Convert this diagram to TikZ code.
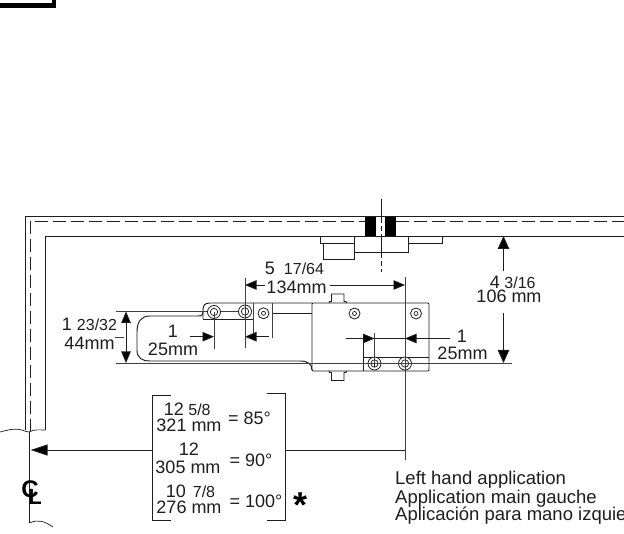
\documentclass[tikz,border=0pt]{standalone}
\usepackage{fontspec}
\setmainfont{Liberation Sans}
\usetikzlibrary{arrows.meta}
\definecolor{ink}{RGB}{30,30,30}
\tikzset{
  x=1pt,y=-1pt,
  wall/.style={draw=ink,line width=.95pt},
  thinl/.style={draw=ink,line width=.7pt},
  extl/.style={draw=ink!85,line width=.9pt},
  dimarrow/.style={draw=ink,line width=.8pt,-{Triangle[length=11.5pt,width=9.5pt,fill=black]}},
  bigarrow/.style={draw=ink,line width=.9pt,-{Triangle[length=13pt,width=11.5pt,fill=black]}},
  hiddenl/.style={draw=ink,line width=.9pt,dash pattern=on 12.5pt off 5.5pt},
  lab/.style={inner sep=0pt,font=\fontsize{18}{18}\selectfont,text=ink},
  small/.style={inner sep=0pt,font=\fontsize{16}{16}\selectfont,text=ink},
  note/.style={inner sep=0pt,anchor=base west,font=\fontsize{18.5}{18.5}\selectfont,text=ink},
  screwo/.style={draw=ink,line width=.8pt,fill=white}
}
\newcommand{\screw}[3]{%
  \node[screwo,circle,minimum size=13pt,inner sep=0pt] (#1) at (#2,#3) {};
  \draw[thinl] (#2,#3) circle (3.7pt);}
\newcommand{\xscrew}[3]{\screw{#1}{#2}{#3}%
  \draw[thinl] (#2-4,#3) -- (#2+4,#3) (#2,#3-4) -- (#2,#3+4);}
\newcommand{\tinyscrew}[3]{%
  \node[screwo,circle,minimum size=11pt,inner sep=0pt] (#1) at (#2,#3) {};
  \draw[thinl] (#2,#3) circle (2pt);}
\begin{document}
\begin{tikzpicture}
\useasboundingbox (0,0) rectangle (624,534);
\fill[white] (0,0) rectangle (624,534);
% corner mark
\fill[black] (0,3.2) rectangle (56,8.2);
\fill[black] (52,0) rectangle (56,8.2);
% frame
\draw[wall] (25,430) -- (25,216.7) -- (624,216.7);
\draw[hiddenl] (30,432) -- (30,221) -- (365,221);
\draw[hiddenl] (396,221) -- (624,221);
\draw[wall] (45,430) -- (45,236) -- (624,236);
\draw[thinl] (0,432) .. controls (8,430) and (14,428) .. (22,430) .. controls (25,431) and (27,432) .. (29,432) .. controls (34,429) and (40,430) .. (45,430);
\draw[wall] (29.7,432) -- (29.7,523);
\draw[thinl] (29.7,523) .. controls (38,519) and (44,521) .. (53,527);
% top fitting
\fill[black] (365,217) rectangle (376,236);
\fill[black] (385,217) rectangle (396,236);
\draw[wall] (320,236) rectangle (442,243);
\draw[wall,fill=white] (354.5,236) rectangle (408.5,252.5);
\draw[wall] (323.5,243) rectangle (354.5,259);
\draw[wall,dash pattern=on 24pt off 3pt on 5pt off 3pt] (381,199) -- (381,272);
% arm
\draw[wall,line join=round] (203,311) .. controls (203,315) and (202,316) .. (198,316) -- (150,316)
  .. controls (141,316) and (137,322) .. (137,332) -- (137,350)
  .. controls (137,358) and (142,361) .. (150,361) -- (300,361)
  .. controls (308,361) and (312,364) .. (312,370);
\draw[wall] (203,319) -- (203,310) .. controls (203,305) and (205,303) .. (210,303) -- (312,303);
\draw[wall] (203,319) -- (254,319);
\draw[extl] (116,311) -- (245,311);
\draw[wall] (273,313.3) -- (312,313.3);
% housing
\draw[wall,rounded corners=1pt] (312,303) rectangle (429,371);
\draw[wall] (363.6,357) -- (429,357);
\draw[wall] (363.6,338.5) -- (363.6,371);
% bumps
\draw[wall] (329,303) -- (329.5,301.5) -- (331.5,301.5) -- (331.5,294) -- (344,294) -- (344,301.5) -- (346,301.5) -- (346.5,303);
\draw[wall] (329,371) -- (329.5,372.5) -- (331.5,372.5) -- (331.5,380.5) -- (344,380.5) -- (344,372.5) -- (346,372.5) -- (346.5,371);
% screws
\screw{sa}{214}{312}
\screw{sb}{245}{311.5}
\tinyscrew{sc}{263.5}{313.3}
\tinyscrew{sd}{354.5}{313.5}
\tinyscrew{se}{416}{313.5}
\xscrew{sf}{374.5}{363.5}
\xscrew{sg}{405}{363.5}
% extension lines
\draw[extl] (116,363) -- (512,363);
\draw[extl] (214,312) -- (214,349);
\draw[extl] (245,278) -- (245,348);
\draw[extl] (253.5,303) -- (253.5,335);
\draw[extl] (272.7,303) -- (272.7,338);
\draw[extl] (405,277) -- (405,460);
\draw[extl] (374.5,333) -- (374.5,364);
\draw[extl] (115,337) -- (124,337);
% 5 17/64
\node[lab] (t5a) at (270,268) {5};
\node[small] (t5b) at (304,268.5) {17/64};
\node[lab] (t5c) at (296.5,287) {134mm};
\coordinate (dl) at (245,285);
\coordinate (dr) at (405,285);
\draw[dimarrow] (265,285) -- (dl);
\draw[dimarrow] (330,285) -- (dr);
% 1 23/32
\node[lab] (t1a) at (67,324) {1};
\node[small] (t1b) at (97,324.5) {23/32};
\node[lab] (t1c) at (89.5,343) {44mm};
\coordinate (hm) at (126,337);
\coordinate (ht) at (126,311.5);
\coordinate (hb) at (126,363);
\draw[dimarrow] (hm) -- (ht);
\draw[dimarrow] (hm) -- (hb);
% 1 25mm left
\node[lab] (t2a) at (173,331) {1};
\node[lab] (t2b) at (173,349) {25mm};
\coordinate (a2l) at (214,336.7);
\coordinate (a2r) at (245,336.7);
\draw[dimarrow] (190,336.7) -- (a2l);
\draw[dimarrow] (269,336.7) -- (a2r);
% 1 25mm right
\node[lab] (t3a) at (462,336) {1};
\node[lab] (t3b) at (462.5,353.5) {25mm};
\coordinate (a3l) at (374.5,338.5);
\coordinate (a3r) at (405,338.5);
\draw[dimarrow] (346,338.5) -- (a3l);
\draw[dimarrow] (450,338.5) -- (a3r);
\draw[thinl] (a3l) -- (a3r);
% 4 3/16
\node[lab] (t4a) at (495,282) {4};
\node[small] (t4b) at (520,283) {3/16};
\node[lab] (t4c) at (509,296.5) {106 mm};
\coordinate (vt) at (503.5,236);
\coordinate (vb) at (503.5,363);
\draw[bigarrow] (503.5,271) -- (vt);
\draw[bigarrow] (503.5,313) -- (vb);
% bracket
\draw[wall] (171,395) -- (152.5,395) -- (152.5,520) -- (171,520);
\draw[wall] (267,393) -- (285,393) -- (285,520) -- (267,520);
\node[lab] (r1a) at (174,409) {12};
\node[small] (r1b) at (199.5,410) {5/8};
\node[lab] (r1c) at (189,425.5) {321 mm};
\node[lab] (r1d) at (249.5,418.5) {= 85°};
\node[lab] (r2a) at (189,449) {12};
\node[lab] (r2b) at (188,467) {305 mm};
\node[lab] (r2d) at (251,460) {= 90°};
\node[lab] (r3a) at (176,491) {10};
\node[small] (r3b) at (204,491.5) {7/8};
\node[lab] (r3c) at (189,507.5) {276 mm};
\node[lab] (r3d) at (256,501) {= 100°};
\node[inner sep=0pt,font=\bfseries\fontsize{36}{36}\selectfont,text=black] (star) at (300.5,505) {*};
\coordinate (bigl) at (30.5,450);
\draw[wall,{Triangle[length=17pt,width=11pt,fill=black]}-] (bigl) -- (153,450);
\draw[wall] (285,450) -- (405,450);
% CL
\node[inner sep=0pt,font=\bfseries\fontsize{24}{24}\selectfont,text=black] (cc) at (30,489) {C};
\node[inner sep=0pt,font=\bfseries\fontsize{22}{22}\selectfont,text=black] (cl) at (35,497) {L};
% notes
\node[note] (n1) at (395,484.3) {Left hand application};
\node[note] (n2) at (395,503) {Application main gauche};
\node[note] (n3) at (395,520.5) {Aplicación para mano izquierda};
\end{tikzpicture}
\end{document}
